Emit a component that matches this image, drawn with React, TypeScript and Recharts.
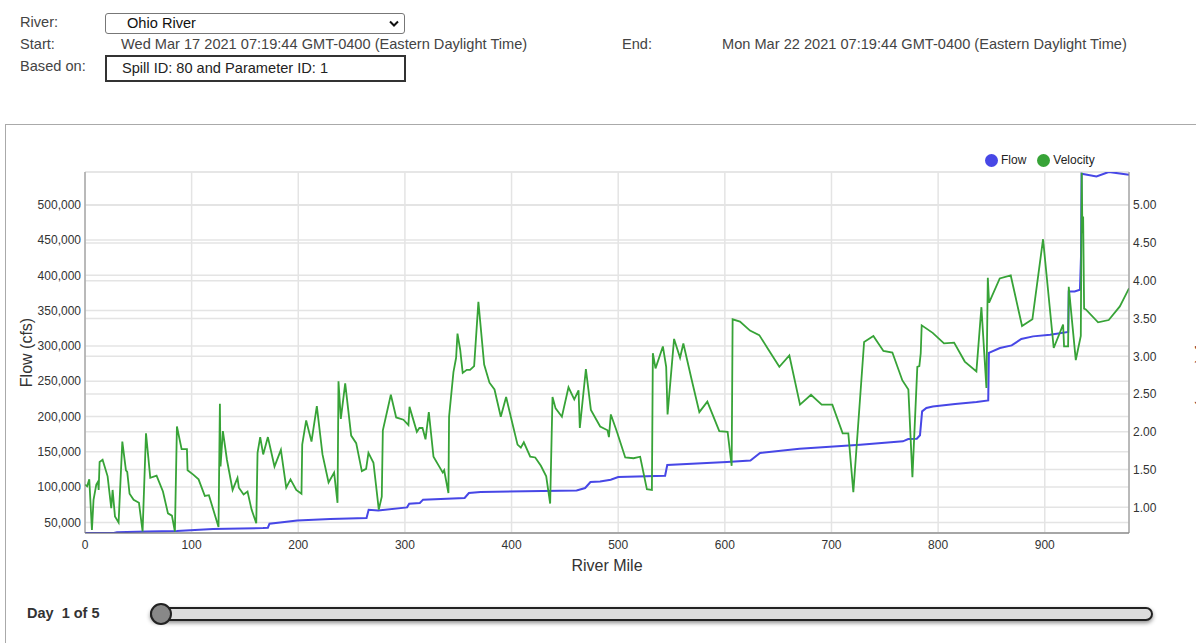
import React from "react";
import { LineChart, Line, XAxis, YAxis, CartesianGrid, Legend } from "recharts";

// flow profile along the river (cfs)
const flowMiles = [
  0, 27, 30, 58, 86, 120, 167, 171.5, 173, 183, 199, 230, 264, 266, 275, 302, 304, 314, 317, 356,
  360, 371, 461, 469, 474, 483, 493, 500, 544, 546, 602, 624, 633, 670, 727, 767, 772, 780, 783,
  785, 789, 795, 816, 836, 847, 847.6, 858, 869, 878, 889, 905, 922, 922.5, 928, 933, 934, 934.5,
  948.5, 960, 979,
];
const flowValues = [
  35000, 35000, 36000, 37300, 38000, 40600, 42000, 42500, 48200, 50000, 52800, 54800, 56200, 68000,
  67000, 71300, 76500, 77500, 82200, 84600, 91600, 93000, 95300, 98700, 107200, 108100, 110500,
  114300, 116100, 131300, 135500, 137800, 148300, 154400, 160100, 164800, 168100, 168600, 173500,
  207300, 212000, 214300, 217700, 220500, 222800, 290000, 297000, 300700, 309800, 313500, 315900,
  319700, 377200, 377200, 379600, 426800, 543900, 540100, 546300, 542500,
];

// velocity profile (ft/sec)
const velocityMiles = [
  0, 2, 4, 6.5, 8, 10.6, 12.2, 12.8, 13.7, 16.5, 21.2, 24.6, 25.9, 28.1, 31.5, 35, 38.4, 39.6, 41.8,
  45.6, 50.6, 54, 57.2, 61.2, 67.1, 73.1, 77.8, 81.5, 84.3, 86.2, 90.6, 95.6, 96.2, 101.8, 106.5,
  112.4, 116.2, 125.2, 126.5, 127.1, 129.3, 133.1, 138.4, 143, 144.3, 148.7, 152.4, 156.2, 160.6,
  161.8, 164.3, 167.1, 171.5, 177.7, 183.7, 188.7, 192.7, 198.1, 203, 203.7, 207.4, 212.4, 217.4,
  222.7, 228.4, 233.6, 236.8, 237.7, 239.9, 244, 249.6, 254.3, 259.6, 263.6, 265.8, 270.5, 275.5,
  278.3, 279.3, 286.8, 291.8, 298.6, 303.3, 304.3, 311.2, 313.6, 316.5, 319.3, 322.4, 326.8, 335.5,
  336.8, 340.8, 341.4, 345.5, 348, 349.3, 351.8, 354.2, 358, 361.1, 364.9, 368.9, 374.3, 379.3, 384,
  389.9, 394.9, 400.3, 405.6, 408.7, 411.5, 417.5, 422.2, 427.5, 432.5, 436.2, 438.4, 441.3, 447.2,
  453.4, 458.8, 462.8, 464, 469.7, 474.4, 483.1, 490, 491.3, 493.1, 498.8, 506.6, 514.4, 520.6,
  526.9, 531.6, 532.5, 535, 541.9, 545, 546.3, 552.4, 558, 561.1, 568.9, 576.1, 583.6, 594.8, 602.6,
  606.4, 607.3, 614.2, 623.6, 632.3, 640.8, 651.1, 660.5, 670.5, 680.8, 690.8, 700.8, 710.5, 715.8,
  720.5, 730.6, 739.3, 748.7, 757.1, 766.5, 772.1, 775.9, 780.5, 782.4, 783.7, 784.6, 794.9, 805.5,
  815, 825, 835.9, 840.6, 845.3, 846.6, 847.8, 857.8, 868.1, 878.7, 888.4, 898.4, 908.4, 917.2,
  918.1, 921.9, 922.5, 929.1, 933.8, 934.7, 935.3, 936, 936.9, 938.5, 950, 960, 970.4, 979,
];
const velocityValues = [
  1.3, 1.28, 1.37, 0.7, 1.1, 1.3, 1.34, 1.23, 1.6, 1.63, 1.41, 0.99, 1.23, 0.88, 0.8, 1.87, 1.49,
  1.47, 1.18, 1.1, 1.06, 0.68, 1.98, 1.39, 1.42, 1.21, 0.92, 0.89, 0.68, 2.07, 1.77, 1.77, 1.49,
  1.43, 1.37, 1.15, 1.16, 0.74, 2.37, 1.54, 2.01, 1.63, 1.23, 1.39, 1.26, 1.17, 1.21, 0.97, 0.79,
  1.72, 1.93, 1.7, 1.93, 1.54, 1.76, 1.26, 1.37, 1.23, 1.18, 1.83, 2.15, 1.87, 2.34, 1.7, 1.33, 1.46,
  1.06, 2.67, 2.17, 2.64, 1.95, 1.85, 1.48, 1.51, 1.72, 1.59, 0.97, 1.14, 2.02, 2.49, 2.19, 2.16,
  2.09, 2.33, 2.0, 2.05, 2.05, 1.9, 2.26, 1.67, 1.46, 1.49, 1.19, 2.2, 2.79, 2.98, 3.3, 3.09, 2.78,
  2.82, 2.82, 2.87, 3.72, 2.89, 2.65, 2.56, 2.2, 2.46, 2.14, 1.83, 1.79, 1.86, 1.67, 1.66, 1.55,
  1.41, 1.05, 2.46, 2.31, 2.2, 2.59, 2.43, 2.55, 2.05, 2.83, 2.29, 2.07, 2.02, 1.93, 2.23, 2.0, 1.66,
  1.65, 1.67, 1.24, 1.23, 3.04, 2.84, 3.13, 2.86, 2.23, 3.23, 2.98, 3.17, 2.69, 2.26, 2.4, 2.01, 2.0,
  1.55, 3.49, 3.46, 3.34, 3.28, 3.09, 2.86, 3.01, 2.36, 2.49, 2.36, 2.36, 1.98, 1.98, 1.2, 3.19, 3.27,
  3.07, 3.05, 2.68, 2.56, 1.4, 2.86, 2.87, 3.04, 3.41, 3.31, 3.17, 3.18, 2.93, 2.8, 3.65, 2.58, 4.04,
  3.71, 4.03, 4.07, 3.4, 3.49, 4.55, 3.11, 3.42, 3.13, 3.13, 3.92, 2.95, 3.27, 5.43, 4.63, 4.85,
  3.63, 3.62, 3.45, 3.48, 3.66, 3.9,
];

const mileTicks = [0, 100, 200, 300, 400, 500, 600, 700, 800, 900];
const flowTicks = [50000, 100000, 150000, 200000, 250000, 300000, 350000, 400000, 450000, 500000];
const velocityTicks = [1, 1.5, 2, 2.5, 3, 3.5, 4, 4.5, 5];

const FLOW_COLOR = "#4747e6";
const VELOCITY_COLOR = "#37a337";
const TEXT = "#444";
const HEADER_FONT = 14.6;

const flowData = flowMiles.map((mile, i) => ({ mile, flow: flowValues[i] }));
const velocityData = velocityMiles.map((mile, i) => ({ mile, velocity: velocityValues[i] }));

const legendItems = [
  { name: "Flow", color: FLOW_COLOR },
  { name: "Velocity", color: VELOCITY_COLOR },
];

function ChartLegend() {
  return (
    <div style={{ display: "flex", alignItems: "center", fontSize: 12, color: "#222" }}>
      {legendItems.map((item) => (
        <div key={item.name} style={{ display: "flex", alignItems: "center", marginRight: 11 }}>
          <span
            style={{
              width: 13,
              height: 13,
              borderRadius: "50%",
              background: item.color,
              display: "inline-block",
              marginRight: 3,
            }}
          />
          <span>{item.name}</span>
        </div>
      ))}
    </div>
  );
}

function headerText(left: number, top: number, text: string, color = TEXT) {
  return (
    <div style={{ position: "absolute", left, top, fontSize: HEADER_FONT, color, whiteSpace: "nowrap" }}>
      {text}
    </div>
  );
}

export default function App() {
  return (
    <div
      style={{
        position: "absolute",
        left: 0,
        top: 0,
        width: 1196,
        height: 643,
        overflow: "hidden",
        background: "#fff",
        fontFamily: "'Liberation Sans', Arial, sans-serif",
      }}
    >
      {headerText(20, 14, "River:")}
      <div
        style={{
          position: "absolute",
          left: 105,
          top: 13,
          width: 300,
          height: 21,
          border: "1px solid #777",
          borderRadius: 3,
          fontSize: HEADER_FONT,
          color: "#111",
          lineHeight: "19px",
          paddingLeft: 21,
          boxSizing: "border-box",
        }}
      >
        Ohio River
        <svg width="12" height="8" style={{ position: "absolute", right: 4, top: 6 }}>
          <path d="M2 1.5 L6 5.5 L10 1.5" stroke="#111" strokeWidth="2" fill="none" />
        </svg>
      </div>
      {headerText(20, 36, "Start:")}
      {headerText(121, 36, "Wed Mar 17 2021 07:19:44 GMT-0400 (Eastern Daylight Time)")}
      {headerText(622, 36, "End:")}
      {headerText(722, 36, "Mon Mar 22 2021 07:19:44 GMT-0400 (Eastern Daylight Time)")}
      {headerText(20, 58, "Based on:")}
      <div
        style={{
          position: "absolute",
          left: 105,
          top: 55,
          width: 301,
          height: 27,
          border: "2px solid #333",
          fontSize: HEADER_FONT,
          color: "#222",
          lineHeight: "23px",
          paddingLeft: 15,
          boxSizing: "border-box",
          whiteSpace: "nowrap",
        }}
      >
        Spill ID: 80 and Parameter ID: 1
      </div>

      {/* chart panel */}
      <div
        style={{
          position: "absolute",
          left: 5,
          top: 124,
          width: 1200,
          height: 530,
          borderTop: "1px solid #aaa",
          borderLeft: "1px solid #aaa",
        }}
      />

      <div style={{ position: "absolute", left: 0, top: 0 }}>
        <LineChart width={1196} height={643} margin={{ top: 172, right: 0, left: 0, bottom: 70 }}>
          <CartesianGrid yAxisId="flow" stroke="#e4e4e4" strokeWidth={1.5} />
          <CartesianGrid yAxisId="velocity" stroke="#e4e4e4" strokeWidth={1.5} vertical={false} />
          <XAxis
            dataKey="mile"
            type="number"
            domain={[0, 979]}
            ticks={mileTicks}
            allowDataOverflow
            tickLine={false}
            tickSize={5}
            tickMargin={2}
            height={40}
            stroke="#666"
            tick={{ fill: "#333", fontSize: 12 }}
            label={{ value: "River Mile", position: "insideBottom", offset: 2, fill: "#333", fontSize: 16 }}
          />
          <YAxis
            yAxisId="flow"
            orientation="left"
            width={85}
            domain={[35000, 546300]}
            ticks={flowTicks}
            allowDataOverflow
            tickLine={false}
            tickSize={2}
            tickMargin={2}
            stroke="#888"
            tick={{ fill: "#333", fontSize: 12 }}
            tickFormatter={(v: number) => v.toLocaleString("en-US")}
            label={{
              content: (props: any) => {
                const vb = props.viewBox || { y: 172, height: 361 };
                const cy = vb.y + vb.height / 2;
                return (
                  <text
                    x={26}
                    y={cy}
                    transform={`rotate(-90, 26, ${cy})`}
                    textAnchor="middle"
                    dominantBaseline="central"
                    fontSize={16}
                    fill="#333"
                  >
                    Flow (cfs)
                  </text>
                );
              },
            }}
          />
          <YAxis
            yAxisId="velocity"
            orientation="right"
            width={67}
            domain={[0.66, 5.44]}
            ticks={velocityTicks}
            allowDataOverflow
            tickLine={false}
            tickSize={2}
            tickMargin={2}
            stroke="#888"
            tick={{ fill: "#333", fontSize: 12 }}
            tickFormatter={(v: number) => v.toFixed(2)}
            label={{
              content: (props: any) => {
                const vb = props.viewBox || { y: 172, height: 361 };
                const cy = vb.y + vb.height / 2;
                return (
                  <text
                    x={1203}
                    y={cy}
                    transform={`rotate(90, 1203, ${cy})`}
                    textAnchor="middle"
                    dominantBaseline="central"
                    fontSize={16}
                    fill="#733"
                  >
                    Velocity (ft/sec)
                  </text>
                );
              },
            }}
          />
          <Legend
            layout="horizontal"
            verticalAlign="middle"
            align="center"
            content={() => <ChartLegend />}
            wrapperStyle={{ top: 153, left: 985, width: 180, height: 16 }}
          />
          <Line
            yAxisId="flow"
            data={flowData}
            dataKey="flow"
            name="Flow"
            type="linear"
            stroke={FLOW_COLOR}
            strokeWidth={2}
            dot={false}
            isAnimationActive={false}
          />
          <Line
            yAxisId="velocity"
            data={velocityData}
            dataKey="velocity"
            name="Velocity"
            type="linear"
            stroke={VELOCITY_COLOR}
            strokeWidth={1.8}
            dot={false}
            isAnimationActive={false}
          />
        </LineChart>
      </div>

      {/* day slider */}
      <div
        style={{
          position: "absolute",
          left: 27,
          top: 605,
          fontSize: 14.5,
          fontWeight: "bold",
          color: "#333",
          whiteSpace: "pre",
        }}
      >
        {"Day  1 of 5"}
      </div>
      <div
        style={{
          position: "absolute",
          left: 150,
          top: 607,
          width: 999,
          height: 10,
          background: "#dcdcdc",
          border: "2px solid #222",
          borderRadius: 7,
          boxShadow: "0 2px 4px rgba(0,0,0,0.45)",
        }}
      />
      <div
        style={{
          position: "absolute",
          left: 150,
          top: 603,
          width: 18,
          height: 18,
          borderRadius: "50%",
          background: "#888",
          border: "2px solid #222",
        }}
      />
    </div>
  );
}
